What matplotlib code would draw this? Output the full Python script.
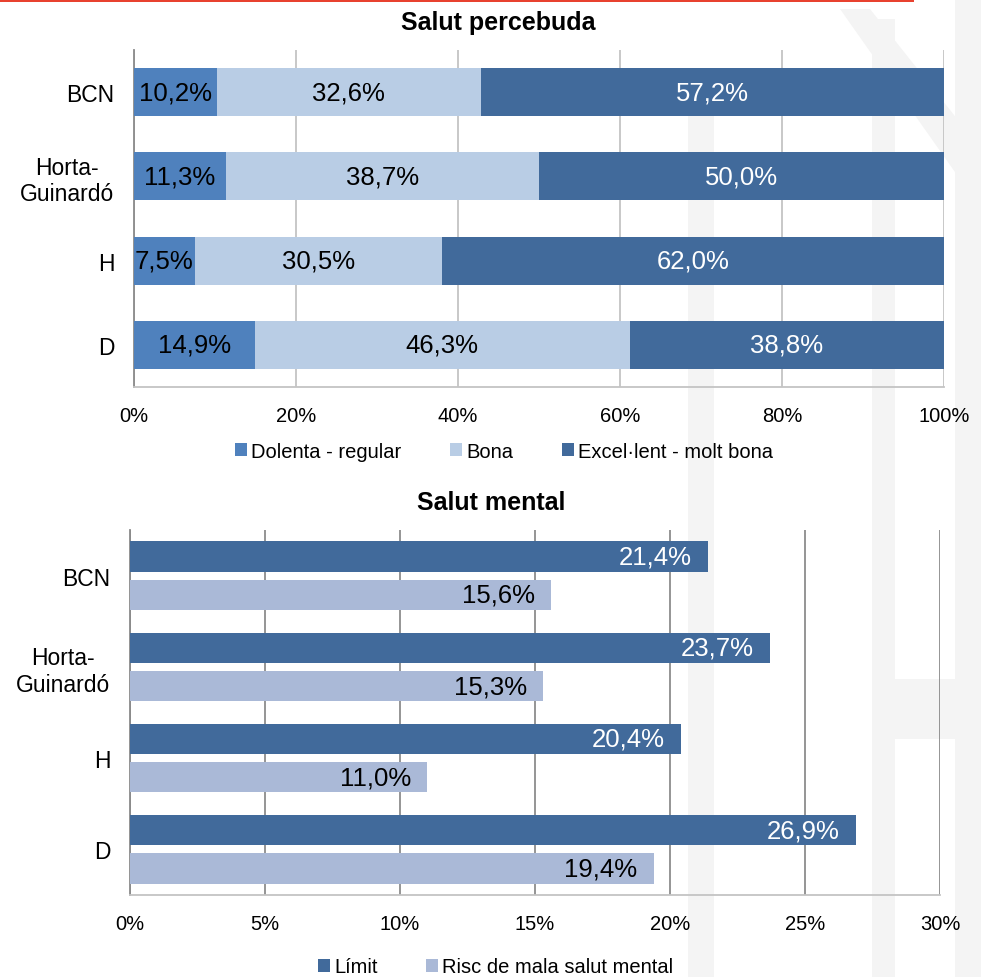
import matplotlib
matplotlib.use("Agg")
import matplotlib.pyplot as plt
from matplotlib.patches import Rectangle, Polygon
import numpy as np

plt.rcParams['font.family'] = ['Liberation Sans', 'DejaVu Sans']

# ---- data ----
categories = ["BCN", "Horta-\nGuinardó", "H", "D"]

perc_labels = ["Dolenta - regular", "Bona", "Excel·lent - molt bona"]
dolenta = [10.2, 11.3, 7.5, 14.9]
bona = [32.6, 38.7, 30.5, 46.3]
excel = [57.2, 50.0, 62.0, 38.8]

mental_labels = ["Límit", "Risc de mala salut mental"]
limit = [21.4, 23.7, 20.4, 26.9]
risc = [15.6, 15.3, 11.0, 19.4]

top_ticks = [0, 20, 40, 60, 80, 100]
bot_ticks = [0, 5, 10, 15, 20, 25, 30]

# ---- style ----
c_dol = "#4F81BD"
c_bona = "#B9CDE5"
c_exc = "#416A9B"
c_lim = "#416A9B"
c_risc = "#AAB9D7"
W, H = 981, 978

def fmt(v):
    return f"{v:.1f}".replace(".", ",") + "%"

fig = plt.figure(figsize=(W / 100, H / 100), dpi=100)
fig.patch.set_facecolor("white")

# faint watermark
wm = "#F4F4F4"
def fpoly(pts):
    fig.add_artist(Polygon([(x / W, 1 - y / H) for x, y in pts], closed=True,
                           transform=fig.transFigure, facecolor=wm, edgecolor="none", zorder=0))
fpoly([(688, 100), (714, 100), (714, 978), (688, 978)])
fpoly([(872, 20), (895, 20), (895, 978), (872, 978)])
fpoly([(955, 0), (981, 0), (981, 978), (955, 978)])
fpoly([(840, 10), (870, 10), (981, 150), (981, 210)])
fpoly([(893, 680), (981, 680), (981, 740), (893, 740)])
# red line
fig.add_artist(Rectangle((0, 1 - 3 / H), 914 / W, 3 / H, transform=fig.transFigure,
                         facecolor="#E8412F", edgecolor="none", zorder=5))

# ---- top chart ----
ax1 = fig.add_axes([134 / W, 1 - 388 / H, 810 / W, 337 / H])
ax1.set_facecolor("none")
y = np.arange(len(categories))
h = 0.57
left = np.zeros(len(categories))
series = [(dolenta, c_dol, "black"), (bona, c_bona, "black"), (excel, c_exc, "white")]
for (vals, col, tc), lab in zip(series, perc_labels):
    vals = np.array(vals)
    ax1.barh(y, vals, height=h, left=left, color=col, label=lab, zorder=3)
    for yi, l, v in zip(y, left, vals):
        ax1.text(l + v / 2, yi, fmt(v), ha="center", va="center", fontsize=18.5, color=tc, zorder=4)
    left = left + vals
ax1.set_xlim(0, 100)
ax1.set_ylim(3.5, -0.5)
ax1.set_yticks(y)
ax1.set_yticklabels(categories, fontsize=16.5, multialignment="center")
ax1.set_xticks(top_ticks)
ax1.set_xticklabels([f"{t}%" for t in top_ticks], fontsize=14.5)
ax1.tick_params(length=0)
ax1.tick_params(axis="y", pad=14)
ax1.tick_params(axis="x", pad=14)
ax1.grid(axis="x", color="#C4C4C4", lw=1.3, zorder=1)
for s in ["top", "right"]:
    ax1.spines[s].set_visible(False)
ax1.spines["left"].set_color("#8A8A8A")
ax1.spines["left"].set_linewidth(1.3)
ax1.spines["bottom"].set_color("#C4C4C4")
ax1.spines["bottom"].set_linewidth(1.3)
ax1.set_title("Salut percebuda", fontsize=18, fontweight="bold", x=(498 - 134) / 810, y=1.0, pad=15)
fig.legend(*ax1.get_legend_handles_labels(), loc="center", bbox_to_anchor=(504 / W, 1 - 452 / H),
           ncol=3, frameon=False, fontsize=14.5, handlelength=0.6, handleheight=0.6,
           handletextpad=0.2, columnspacing=2.4)

# ---- bottom chart ----
ax2 = fig.add_axes([130 / W, 1 - 896 / H, 810 / W, 365 / H])
ax2.set_facecolor("none")
bh = 0.33
off = 0.21
ax2.barh(y - off, limit, height=bh, color=c_lim, label=mental_labels[0], zorder=3)
ax2.barh(y + off, risc, height=bh, color=c_risc, label=mental_labels[1], zorder=3)
for yi, v in zip(y, limit):
    ax2.text(v - 0.6, yi - off, fmt(v), ha="right", va="center", fontsize=18.5, color="white", zorder=4)
for yi, v in zip(y, risc):
    ax2.text(v - 0.6, yi + off, fmt(v), ha="right", va="center", fontsize=18.5, color="black", zorder=4)
ax2.set_xlim(0, 30)
ax2.set_ylim(3.5, -0.5)
ax2.set_yticks(y)
ax2.set_yticklabels(categories, fontsize=16.5, multialignment="center")
ax2.set_xticks(bot_ticks)
ax2.set_xticklabels([f"{t}%" for t in bot_ticks], fontsize=14.5)
ax2.tick_params(length=0)
ax2.tick_params(axis="y", pad=14)
ax2.tick_params(axis="x", pad=14)
ax2.grid(axis="x", color="#8C8C8C", lw=1.3, zorder=1)
for s in ["top", "right"]:
    ax2.spines[s].set_visible(False)
ax2.spines["left"].set_color("#8A8A8A")
ax2.spines["left"].set_linewidth(1.3)
ax2.spines["bottom"].set_color("#C4C4C4")
ax2.spines["bottom"].set_linewidth(1.3)
ax2.set_title("Salut mental", fontsize=18, fontweight="bold", x=(491 - 130) / 810, y=1.0, pad=15)
fig.legend(*ax2.get_legend_handles_labels(), loc="center", bbox_to_anchor=(496 / W, 1 - 968 / H),
           ncol=2, frameon=False, fontsize=14.5, handlelength=0.6, handleheight=0.6,
           handletextpad=0.2, columnspacing=2.4)

fig.savefig("out.png", dpi=100, facecolor="white")
